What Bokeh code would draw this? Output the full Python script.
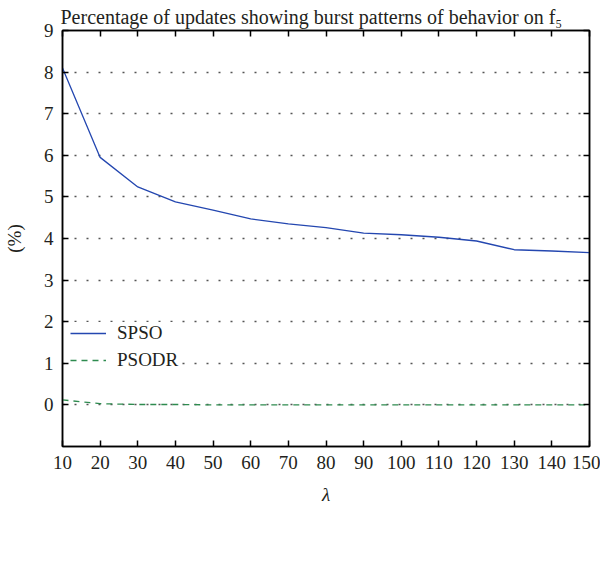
from bokeh.plotting import figure
from bokeh.models import (LinearAxis, FixedTicker, Legend, LegendItem, Range1d)
from bokeh.embed import file_html
from bokeh.resources import INLINE

lam = [10, 20, 30, 40, 50, 60, 70, 80, 90, 100, 110, 120, 130, 140, 150]
spso = [8.10, 5.95, 5.24, 4.88, 4.68, 4.47, 4.35, 4.26, 4.13, 4.09, 4.03, 3.94, 3.73, 3.70, 3.66]
psodr = [0.12, 0.03, 0.01, 0.01, 0.0, 0.0, 0.0, 0.0, 0.0, 0.0, 0.0, 0.0, 0.0, 0.0, 0.0]
x_ticks = list(range(10, 151, 10))
y_ticks = list(range(0, 10))
grid_ticks = list(range(0, 9))

title_text = "Percentage of updates showing burst patterns of behavior on f\u2085"
FONT = "Liberation Serif"
TXT = "#231f20"
FS = "19px"
W, H = 600, 580
ML, MR, MT, MB = 60, 11, 30, 134

p = figure(width=W, height=H, output_backend="svg", toolbar_location=None,
           x_range=Range1d(10, 150), y_range=Range1d(-1, 9),
           x_axis_location=None, y_axis_location=None,
           min_border_left=ML, min_border_right=MR, min_border_top=MT, min_border_bottom=MB)
p.outline_line_color = "black"
p.outline_line_width = 1.5
p.background_fill_color = "white"
p.border_fill_color = "white"

p.title.text = title_text
p.title.text_font = FONT
p.title.text_font_size = "20px"
p.title.text_font_style = "normal"
p.title.text_color = TXT
p.title.align = "left"
p.title.offset = -2
p.title.standoff = 6

def mk_axis(ticks, labels=True):
    ax = LinearAxis(ticker=FixedTicker(ticks=ticks))
    ax.axis_line_color = "black"
    ax.axis_line_width = 1.5
    ax.major_tick_in = 6
    ax.major_tick_out = 0
    ax.major_tick_line_width = 1.5
    ax.minor_tick_line_color = None
    if labels:
        ax.major_label_text_font = FONT
        ax.major_label_text_font_size = FS
        ax.major_label_text_color = TXT
        ax.major_label_standoff = 9
    else:
        ax.major_label_overrides = {t: "" for t in ticks}
        ax.major_label_standoff = 0
    return ax

bottom = mk_axis(x_ticks)
bottom.axis_label = "λ"
bottom.axis_label_text_font = FONT
bottom.axis_label_text_font_style = "italic"
bottom.axis_label_text_font_size = FS
bottom.axis_label_text_color = TXT
bottom.axis_label_standoff = 12
p.add_layout(bottom, "below")

left = mk_axis(y_ticks)
left.axis_label = "(%)"
left.axis_label_text_font = FONT
left.axis_label_text_font_style = "normal"
left.axis_label_text_font_size = FS
left.axis_label_text_color = TXT
left.axis_label_standoff = 16
p.add_layout(left, "left")
p.add_layout(mk_axis(x_ticks, False), "above")
p.add_layout(mk_axis(y_ticks, False), "right")

p.xgrid.visible = False
p.ygrid.ticker = FixedTicker(ticks=grid_ticks)
p.ygrid.grid_line_color = "#555555"
p.ygrid.grid_line_dash = "2 10"
p.ygrid.grid_line_width = 1.5

r1 = p.line(lam, spso, line_color="#2447b0", line_width=1.3)
r2 = p.line(lam, psodr, line_color="#2e8b4f", line_width=1.3, line_dash="6 5")

legend = Legend(items=[LegendItem(label="SPSO", renderers=[r1]),
                       LegendItem(label="PSODR", renderers=[r2])],
                location=(8, 75), orientation="vertical",
                label_text_font=FONT, label_text_font_size=FS, label_text_color=TXT,
                glyph_width=36, glyph_height=22, spacing=5, label_standoff=11,
                border_line_color=None, background_fill_color="white", background_fill_alpha=1,
                padding=6, margin=0)
p.add_layout(legend, "center")

open("out.html", "w").write(file_html(p, INLINE))
